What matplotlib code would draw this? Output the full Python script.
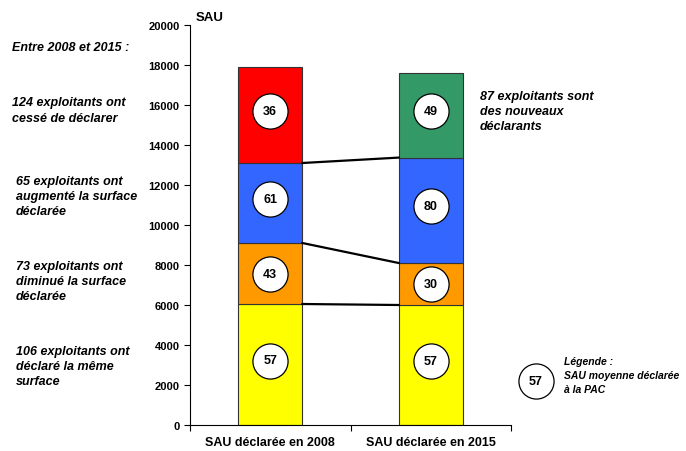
import matplotlib
matplotlib.use("Agg")
import matplotlib.pyplot as plt
import numpy as np

plt.rcParams['font.family'] = ['Liberation Sans', 'DejaVu Sans']

# categories and stacked segments (SAU, ha)
categories = ["SAU déclarée en 2008", "SAU déclarée en 2015"]
same_surface = [6050, 6000]       # yellow
decreased = [3050, 2100]          # orange
increased = [4000, 5270]          # blue
stopped = [4780, 0]               # red (only 2008)
newcomers = [0, 4230]             # green (only 2015)

# average SAU per farm shown in the circles
avg_same = [57, 57]
avg_decr = [43, 30]
avg_incr = [61, 80]
avg_stop = 36
avg_new = 49

W, H = 686, 452
fig = plt.figure(figsize=(W / 100, H / 100), dpi=100)
ax = fig.add_axes([190 / W, 26 / H, 321 / W, 400 / H])

x = np.arange(len(categories))
bw = 0.4
edge = dict(edgecolor="#333333", linewidth=0.8)

b0 = np.zeros(2)
ax.bar(x, same_surface, bw, bottom=b0, color="#FFFF00", **edge)
b1 = b0 + same_surface
ax.bar(x, decreased, bw, bottom=b1, color="#FF9900", **edge)
b2 = b1 + decreased
ax.bar(x, increased, bw, bottom=b2, color="#3366FF", **edge)
b3 = b2 + increased
ax.bar(x[0], stopped[0], bw, bottom=b3[0], color="#FF0000", **edge)
ax.bar(x[1], newcomers[1], bw, bottom=b3[1], color="#339966", **edge)

# connecting lines between the bars
for lev in (b1, b2, b3):
    ax.plot([x[0] + bw / 2, x[1] - bw / 2], [lev[0], lev[1]], color="black", lw=1.6, zorder=3)

def bubble(xx, yy, val, clip=True):
    ax.scatter([xx], [yy], s=640, facecolor="white", edgecolor="black",
               linewidth=0.9, zorder=4, clip_on=clip)
    ax.text(xx, yy, str(val), ha="center", va="center", fontsize=9,
            fontweight="bold", zorder=5, clip_on=clip)

off = 200
for i in range(2):
    bubble(x[i], b0[i] + same_surface[i] / 2 + off, avg_same[i])
    bubble(x[i], b1[i] + decreased[i] / 2, avg_decr[i])
    bubble(x[i], b2[i] + increased[i] / 2 + off, avg_incr[i])
bubble(x[0], b3[0] + stopped[0] / 2 + off, avg_stop)
bubble(x[1], b3[1] + newcomers[1] / 2 + off, avg_new)

# legend bubble
bubble(1.656, 2200, 57, clip=False)

ax.set_xlim(-0.5, 1.5)
ax.set_ylim(0, 20000)
ax.set_yticks(np.arange(0, 20001, 2000))
ax.set_xticks([-0.5, 0.5, 1.5])
ax.set_xticklabels([])
ax.tick_params(axis="both", direction="out", length=4, width=0.8, labelsize=8)
for lab in ax.get_yticklabels():
    lab.set_fontweight("bold")
ax.spines["top"].set_visible(False)
ax.spines["right"].set_visible(False)

for i, c in enumerate(categories):
    ax.text(x[i], -0.042, c, transform=ax.get_xaxis_transform(), ha="center", va="center",
            fontsize=9, fontweight="bold")

def ftext(px, py, s, size=9, spacing=1.36):
    fig.text(px / W, 1 - py / H, s, fontsize=size, fontweight="bold", style="italic",
             va="center", ha="left", linespacing=spacing)

fig.text(196 / W, 1 - 18 / H, "SAU", fontsize=9.5, fontweight="bold", va="center")
ftext(12, 48, "Entre 2008 et 2015 :")
ftext(12, 111, "124 exploitants ont\ncessé de déclarer")
ftext(16, 197, "65 exploitants ont\naugmenté la surface\ndéclarée")
ftext(16, 282, "73 exploitants ont\ndiminué la surface\ndéclarée")
ftext(16, 367, "106 exploitants ont\ndéclaré la même\nsurface")
ftext(480, 112, "87 exploitants sont\ndes nouveaux\ndéclarants")
ftext(564, 376, "Légende :\nSAU moyenne déclarée\nà la PAC", size=7.5, spacing=1.45)

fig.savefig("out.png", dpi=100)
